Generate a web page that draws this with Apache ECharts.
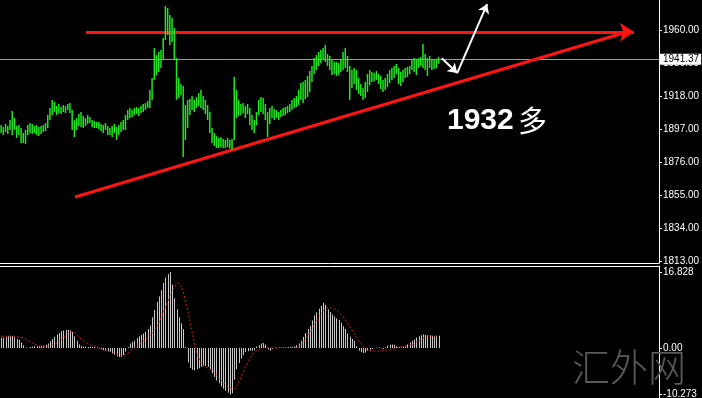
<!DOCTYPE html>
<html><head><meta charset="utf-8">
<script src="https://cdn.jsdelivr.net/npm/echarts@6/dist/echarts.min.js"></script>
<style>html,body{margin:0;padding:0;background:#000;}#c{width:702px;height:398px;}</style>
</head><body><div id="c"></div>
<script>
// price bars (high / low), one per bar index
const highs = [1899.5,1898.3,1900.2,1898.9,1902.7,1908.5,1904.0,1898.9,1899.5,1897.6,
1894.5,1896.4,1899.5,1900.8,1900.2,1898.9,1899.5,1898.3,1898.9,1899.5,
1900.8,1905.9,1910.4,1915.5,1914.2,1911.6,1912.9,1911.0,1912.3,1911.6,
1912.9,1913.5,1909.1,1902.7,1904.0,1906.5,1907.8,1905.3,1904.0,1905.9,
1904.6,1902.7,1902.1,1901.5,1901.5,1900.2,1899.5,1900.8,1898.9,1897.6,
1898.9,1900.2,1898.3,1899.5,1901.5,1902.7,1905.9,1909.1,1910.4,1909.1,
1910.4,1911.0,1910.4,1911.6,1912.9,1913.5,1914.8,1921.8,1929.5,1948.5,
1944.1,1946.0,1947.3,1954.9,1975.3,1974.0,1969.5,1967.6,1961.3,1942.2,
1929.5,1925.6,1924.4,1912.3,1915.5,1916.1,1918.0,1915.5,1917.4,1919.9,
1921.8,1918.0,1915.5,1912.3,1907.8,1897.6,1894.5,1892.5,1891.3,1891.9,
1890.6,1890.0,1891.3,1890.0,1890.6,1930.1,1921.8,1915.5,1912.9,1913.5,
1911.6,1912.9,1910.4,1905.9,1902.7,1907.8,1915.5,1917.4,1916.7,1912.9,
1907.8,1910.4,1911.6,1909.7,1909.1,1907.8,1909.1,1910.4,1911.0,1911.6,
1912.9,1915.5,1916.7,1918.0,1921.8,1926.3,1926.9,1928.2,1930.7,1933.9,
1937.1,1942.2,1944.1,1946.0,1947.3,1948.5,1950.5,1944.7,1943.5,1940.9,
1939.6,1939.6,1939.0,1940.9,1946.0,1948.5,1943.5,1937.1,1934.5,1935.8,
1934.5,1929.5,1925.6,1923.1,1926.9,1932.0,1934.5,1933.3,1932.6,1933.9,
1932.0,1930.7,1928.2,1929.5,1932.0,1934.5,1935.8,1937.1,1938.4,1935.8,
1933.3,1934.5,1935.8,1936.5,1937.1,1940.9,1942.2,1940.9,1942.2,1942.8,
1951.1,1944.7,1942.2,1943.5,1940.9,1941.5,1940.9,1942.8];
const lows = [1894.5,1893.2,1895.1,1893.8,1896.4,1893.2,1896.4,1891.3,1893.2,1888.1,
1888.1,1887.5,1893.2,1894.5,1893.8,1894.5,1893.2,1892.5,1893.8,1895.1,
1895.7,1897.6,1902.7,1905.9,1907.8,1905.9,1907.2,1906.5,1907.8,1907.2,
1909.1,1907.2,1896.4,1891.9,1896.4,1898.9,1898.3,1897.6,1898.9,1900.2,
1900.8,1898.3,1897.6,1897.6,1897.0,1895.7,1894.5,1896.4,1893.2,1893.2,
1891.9,1894.5,1890.0,1893.2,1895.1,1896.4,1896.4,1902.7,1904.0,1904.6,
1905.9,1906.5,1905.3,1907.2,1907.8,1909.1,1910.4,1910.4,1915.5,1928.2,
1931.4,1933.3,1935.8,1940.9,1953.6,1956.8,1950.5,1952.4,1940.9,1915.5,
1916.7,1918.6,1879.2,1890.0,1897.6,1905.9,1909.1,1907.8,1910.4,1911.6,
1910.4,1909.1,1906.5,1902.7,1894.5,1888.1,1886.2,1884.9,1884.9,1885.5,
1884.9,1884.9,1885.5,1884.6,1884.0,1890.0,1904.0,1905.3,1905.9,1907.2,
1904.0,1906.5,1899.5,1896.4,1894.5,1899.5,1905.9,1907.8,1906.5,1902.7,
1891.9,1900.2,1904.0,1902.7,1904.0,1902.7,1904.6,1905.3,1905.9,1907.2,
1907.8,1909.1,1910.4,1911.0,1912.3,1915.5,1913.5,1916.1,1917.4,1920.5,
1926.9,1932.0,1934.5,1937.1,1939.0,1940.9,1939.6,1937.1,1934.5,1931.4,
1932.0,1930.7,1931.4,1933.3,1934.5,1935.8,1933.3,1915.5,1923.1,1925.6,
1921.8,1919.3,1918.0,1915.5,1916.7,1920.5,1925.0,1926.9,1927.5,1928.2,
1925.6,1922.5,1920.5,1921.8,1923.7,1926.3,1928.2,1929.5,1932.0,1925.6,
1924.4,1926.9,1929.5,1930.1,1932.0,1934.5,1933.3,1931.4,1935.8,1937.1,
1935.8,1934.5,1930.7,1935.8,1934.5,1935.2,1935.8,1938.4];
// MACD main (histogram) and signal
const macd = [2.2,2.3,2.4,2.6,2.7,2.6,2.4,2.0,1.8,1.2,
0.6,0.1,0.0,0.2,0.3,0.4,0.4,0.4,0.4,0.5,
0.7,1.0,1.5,2.0,2.5,3.0,3.3,3.7,3.9,4.0,
4.0,3.9,3.6,2.6,1.6,0.8,0.5,0.3,0.3,0.2,
0.3,0.2,0.2,0.1,-0.1,-0.3,-0.5,-0.6,-0.8,-0.9,
-1.2,-1.5,-1.8,-2.0,-2.0,-1.6,-0.8,0.2,1.0,1.4,
1.6,2.2,2.6,2.9,3.2,3.6,4.2,5.0,6.8,8.4,
10.2,11.4,12.8,14.4,15.6,16.4,16.828,14.0,11.0,8.5,
6.8,5.5,4.2,0.2,-3.2,-4.4,-4.8,-4.9,-4.7,-4.5,
-4.2,-4.0,-4.0,-4.2,-4.8,-5.6,-6.4,-7.2,-7.8,-8.5,
-9.0,-9.5,-9.9,-10.273,-10.0,-7.0,-4.7,-3.3,-2.3,-1.6,
-0.9,-0.7,-0.6,-0.6,-0.5,0.3,0.6,1.0,1.1,0.8,
-0.4,-0.6,-0.2,0.0,0.1,0.1,0.1,0.1,0.1,0.2,
0.2,0.3,0.4,0.6,1.0,1.6,2.5,3.3,4.2,4.9,
6.1,7.2,7.9,8.7,9.3,10.0,9.6,8.6,8.0,7.4,
7.0,6.6,6.2,5.6,4.8,4.2,3.2,2.5,2.0,1.6,
0.4,-0.6,-0.9,-1.1,-1.0,-0.6,-0.4,-0.2,0.0,0.1,
0.1,-0.1,-0.2,0.1,0.5,0.7,0.8,0.7,0.4,0.2,
0.1,0.2,0.4,0.8,1.2,1.6,1.9,2.3,2.6,2.8,
3.0,2.9,2.8,2.8,2.7,2.6,2.6,2.7];
const signal = [2.6,2.6,2.6,2.6,2.6,2.6,2.6,2.5,2.4,2.3,
2.2,2.0,1.7,1.4,1.1,0.9,0.7,0.5,0.4,0.4,
0.4,0.4,0.5,0.6,0.8,1.0,1.4,1.8,2.3,2.8,
3.2,3.5,3.6,3.4,3.0,2.5,2.0,1.6,1.3,1.0,
0.7,0.5,0.4,0.3,0.2,0.1,-0.1,-0.3,-0.5,-0.7,
-0.9,-1.1,-1.3,-1.5,-1.6,-1.6,-1.5,-1.2,-0.8,-0.4,
0.0,0.4,0.8,1.2,1.5,1.9,2.3,2.7,3.2,3.9,
4.7,5.6,6.6,7.8,9.0,10.2,11.5,12.6,13.5,14.2,
14.4,13.8,12.5,10.5,8.4,6.0,3.6,1.2,-0.8,-2.2,
-3.3,-3.9,-4.2,-4.4,-4.6,-4.8,-5.4,-6.0,-6.6,-7.0,
-7.6,-8.1,-8.5,-8.8,-9.0,-9.1,-8.6,-7.5,-6.5,-5.3,
-4.2,-3.3,-2.4,-1.6,-1.0,-0.6,-0.4,-0.2,0.0,0.1,
0.1,0.0,0.0,0.0,0.0,0.1,0.1,0.1,0.1,0.1,
0.1,0.1,0.1,0.1,0.3,0.7,1.2,1.8,2.6,3.3,
4.0,5.0,6.0,6.9,7.6,8.2,8.7,9.0,9.0,8.8,
8.7,8.4,8.0,7.5,7.0,6.3,5.5,4.8,4.0,3.2,
2.4,1.6,1.0,0.4,-0.1,-0.3,-0.5,-0.6,-0.7,-0.7,
-0.7,-0.6,-0.5,-0.5,-0.4,-0.4,-0.3,-0.2,0.0,0.2,
0.3,0.4,0.4,0.5,0.5,0.7,1.0,1.3,1.6,1.9,
2.2,2.4,2.5,2.6,2.6,2.6,2.7,2.7];
const priceTicks = [1813, 1834, 1855, 1876, 1897, 1918, 1939, 1960];
const macdTicks = [-10.273, 0, 16.828];
const macdTickLabels = ['-10.273', '0.00', '16.828'];
const lastPrice = 1941.37;
const annotationText = '1932';
const annotationWord = '多';
const watermark = '汇外网';

const GREEN = '#22e622';
const RED = '#ff1414';
const FONT = '"Liberation Sans", Arial, sans-serif';

const chart = echarts.init(document.getElementById('c'), null, {renderer: 'canvas'});

const priceData = highs.map((h, i) => [i, lows[i], h]);
const macdData = macd.map((v, i) => [i, v]);
const signalData = signal.map((v, i) => [i, v]);

const xBase = {type: 'value', min: -0.5, max: 296.3, axisTick: {show: false}, axisLabel: {show: false}, splitLine: {show: false}};
const yBase = {type: 'value', position: 'right', splitLine: {show: false},
  axisLine: {show: true, onZero: false, lineStyle: {color: '#ffffff', width: 1}},
  axisTick: {show: true, length: 3, lineStyle: {color: '#ffffff'}},
  axisLabel: {color: '#ffffff', fontSize: 10, fontFamily: FONT, margin: 4}};

chart.setOption({
  backgroundColor: '#000000',
  animation: false,
  grid: [
    {left: 0, right: 43, top: 0, height: 263, outerBoundsMode: 'none'},
    {left: 0, right: 43, top: 266, height: 132, outerBoundsMode: 'none'}
  ],
  xAxis: [
    Object.assign({}, xBase, {gridIndex: 0, position: 'bottom', axisLine: {show: true, onZero: false, lineStyle: {color: '#ffffff'}}}),
    Object.assign({}, xBase, {gridIndex: 1, position: 'top', axisLine: {show: true, onZero: false, lineStyle: {color: '#ffffff'}}})
  ],
  yAxis: [
    Object.assign({}, yBase, {gridIndex: 0, min: 1811.73, max: 1979.09,
      axisTick: Object.assign({}, yBase.axisTick, {customValues: priceTicks}),
      axisLabel: Object.assign({}, yBase.axisLabel, {customValues: priceTicks, formatter: v => Number(v).toFixed(2)})}),
    Object.assign({}, yBase, {gridIndex: 1, min: -11.07, max: 18.16,
      axisTick: Object.assign({}, yBase.axisTick, {customValues: macdTicks}),
      axisLabel: Object.assign({}, yBase.axisLabel, {customValues: macdTicks,
        formatter: v => { const k = macdTicks.indexOf(Number(v)); return k >= 0 ? macdTickLabels[k] : String(v); }})})
  ],
  series: [
    {
      type: 'lines', coordinateSystem: 'cartesian2d', xAxisIndex: 0, yAxisIndex: 0, z: 2, silent: true,
      symbol: ['none', 'none'],
      lineStyle: {color: RED, width: 3, opacity: 1, curveness: 0},
      data: [{coords: [[33.3, 1853.7], [283.3, 1959.4]]}]
    },
    {
      type: 'lines', coordinateSystem: 'cartesian2d', xAxisIndex: 0, yAxisIndex: 0, z: 2, silent: true,
      symbol: ['none', 'arrow'], symbolSize: 14,
      lineStyle: {color: RED, width: 3, opacity: 1, curveness: 0},
      data: [{coords: [[38.2, 1958.7], [285.0, 1958.7]]}]
    },
    {
      type: 'lines', coordinateSystem: 'cartesian2d', xAxisIndex: 0, yAxisIndex: 0, z: 4, silent: true,
      symbol: ['none', 'arrow'], symbolSize: 9,
      lineStyle: {color: '#ffffff', width: 2, opacity: 1, curveness: 0},
      data: [
        {coords: [[198.5, 1942.0], [205.4, 1932.6]]},
        {coords: [[205.4, 1932.6], [218.9, 1976.5]]}
      ]
    },
    {
      type: 'custom', xAxisIndex: 0, yAxisIndex: 0, z: 3, silent: true,
      encode: {x: 0, y: [1, 2]},
      data: priceData,
      renderItem: function (params, api) {
        const p1 = api.coord([api.value(0), api.value(2)]);
        const p2 = api.coord([api.value(0), api.value(1)]);
        return {type: 'rect', shape: {x: p1[0] - 0.75, y: p1[1], width: 1.5, height: Math.max(1, p2[1] - p1[1])},
          style: {fill: GREEN, stroke: null}};
      },
      markLine: {
        silent: true, symbol: ['none', 'none'], z: 1,
        lineStyle: {color: '#9a9a9a', width: 1, type: 'solid'},
        label: {show: true, position: 'end', distance: 1, formatter: lastPrice.toFixed(2),
          backgroundColor: '#ffffff', color: '#000000', fontSize: 10, fontFamily: FONT, padding: [1, 2, 0, 3]},
        data: [{yAxis: lastPrice}]
      }
    },
    {
      type: 'custom', xAxisIndex: 1, yAxisIndex: 1, z: 2, silent: true,
      encode: {x: 0, y: 1},
      data: macdData,
      renderItem: function (params, api) {
        const p0 = api.coord([api.value(0), 0]);
        const p1 = api.coord([api.value(0), api.value(1)]);
        const x = Math.round(p0[0]);
        return {type: 'rect', shape: {x: x, y: Math.min(p0[1], p1[1]), width: 1, height: Math.abs(p1[1] - p0[1])}, style: {fill: '#c8c8c8', stroke: null}};
      }
    },
    {
      type: 'line', xAxisIndex: 1, yAxisIndex: 1, z: 3, silent: true,
      data: signalData, symbol: 'none', smooth: false,
      lineStyle: {color: '#e01e1e', width: 1, type: [2, 2]}
    }
  ],
  graphic: [
    {type: 'text', x: 447, y: 121, z: 10, silent: true,
      style: {text: annotationText, fill: '#ffffff', font: 'bold 30px "Liberation Sans", Arial, sans-serif', textVerticalAlign: 'middle'}},
    {type: 'text', x: 518, y: 121, z: 10, silent: true,
      style: {text: annotationWord, fill: '#ffffff', font: '29px "Noto Sans CJK SC", sans-serif', textVerticalAlign: 'middle'}},
    {type: 'text', x: 572, y: 367, z: 10, silent: true,
      style: {text: watermark, fill: '#5a5a5a', font: '300 38px "Noto Sans CJK SC", sans-serif', textVerticalAlign: 'middle'}}
  ]
});
</script>
</body></html>
